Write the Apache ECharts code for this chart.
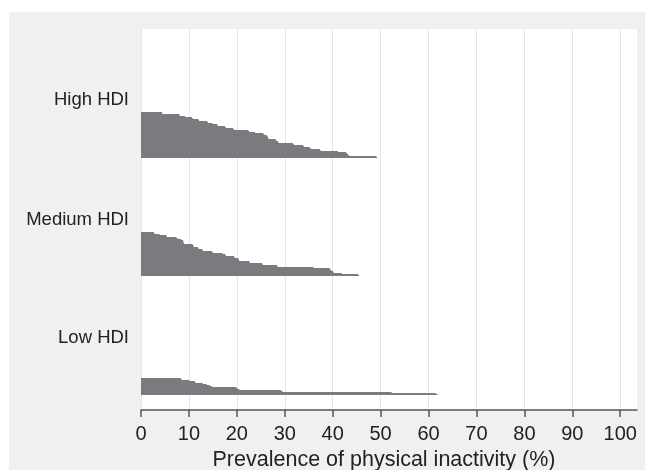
<!DOCTYPE html>
<html>
<head>
<meta charset="utf-8">
<script src="https://cdn.jsdelivr.net/npm/echarts@6/dist/echarts.min.js"></script>
<style>
  html, body { margin: 0; padding: 0; background: #fff; }
  #chart { position: absolute; left: 9px; top: 12px; width: 636px; height: 458px; }
</style>
</head>
<body>
<div id="chart"></div>
<script>
// prevalence of physical inactivity (%) per country, sorted within each HDI group
const highHdi = [4.4, 4.4, 8.0, 8.1, 9.2, 10.6, 10.8, 12.0, 12.1, 13.8, 14.0, 14.9, 15.9, 16.0, 17.5, 17.7,
  19.2, 19.4, 22.4, 22.6, 23.8, 25.5, 25.7, 26.3, 26.4, 26.5, 26.6, 28.1, 28.2, 28.6, 28.7, 31.7,
  31.9, 33.8, 34.0, 35.2, 35.4, 37.3, 37.5, 41.1, 42.8, 43.0, 43.2, 43.4, 49.1, 49.3]
const mediumHdi = [2.7, 2.8, 3.9, 5.3, 5.4, 7.4, 7.6, 8.4, 8.8, 8.8, 8.9, 9.0, 10.8, 10.9, 11.0, 11.9,
  12.0, 12.8, 12.9, 14.8, 15.0, 17.0, 17.6, 17.7, 19.4, 19.5, 20.3, 20.4, 20.5, 22.6, 22.7, 25.3,
  25.4, 28.4, 28.5, 36.0, 39.4, 39.5, 39.7, 40.1, 40.2, 41.9, 45.3, 45.5]
const lowHdi = [8.3, 8.5, 10.1, 11.2, 11.4, 12.9, 13.7, 14.3, 14.8, 19.9, 20.1, 20.5, 29.2, 29.5, 52.3, 61.5, 61.9]
const groupLabels = ['High HDI', 'Medium HDI', 'Low HDI']
const xTicks = [0, 10, 20, 30, 40, 50, 60, 70, 80, 90, 100]

const groups = [highHdi, mediumHdi, lowHdi]
// band layout of each group inside the chart box
const bandTop = [100, 220, 366]
const labelGap = [12, 12, 40]
const xMax = 103.5
const font = '"Liberation Sans", Arial, sans-serif'
const barColor = '#7a7b7f'

const chart = echarts.init(document.getElementById('chart'))

const grid = [{
  left: 132, top: 17, right: 8, bottom: 60, show: true, backgroundColor: '#fff', borderWidth: 0,
  outerBoundsMode: 'none',
}]
const xAxis = [{
  type: 'value', gridIndex: 0, min: 0, max: xMax, interval: 10, offset: 4,
  axisLine: { show: true, lineStyle: { color: '#555', width: 1.5 } },
  axisTick: { show: true, length: 7, lineStyle: { color: '#555', width: 1.5 }, customValues: xTicks },
  axisLabel: { color: '#222', fontSize: 20, fontFamily: font, margin: 10, customValues: xTicks },
  splitLine: { show: true, lineStyle: { color: '#e6e6e6', width: 1 } },
  name: 'Prevalence of physical inactivity (%)',
  nameLocation: 'middle', nameGap: 33,
  nameTextStyle: { color: '#222', fontSize: 21.5, fontFamily: font, padding: [0, 10, 0, 0] },
}]
const yAxis = [{ type: 'value', gridIndex: 0, show: false }]
const series = []

groups.forEach((vals, i) => {
  const g = i + 1
  grid.push({ left: 132, right: 8, top: bandTop[i], height: vals.length, outerBoundsMode: 'none' })
  xAxis.push({ type: 'value', gridIndex: g, min: 0, max: xMax, show: false })
  yAxis.push({
    type: 'category', gridIndex: g, inverse: true,
    data: vals.map((_, k) => k),
    axisLine: { show: false }, axisTick: { show: false }, axisLabel: { show: false },
    name: groupLabels[i], nameLocation: 'start', nameGap: labelGap[i],
    nameTextStyle: { color: '#222', fontSize: 18.5, fontFamily: font, align: 'right', verticalAlign: 'middle', padding: [0, 12, 0, 0] },
  })
  series.push({
    type: 'bar', xAxisIndex: g, yAxisIndex: g, data: vals,
    barCategoryGap: '0%', barGap: 0, silent: true,
    itemStyle: { color: barColor },
  })
})

chart.setOption({
  animation: false,
  backgroundColor: '#eff0f2',
  grid, xAxis, yAxis, series,
})
</script>
</body>
</html>
